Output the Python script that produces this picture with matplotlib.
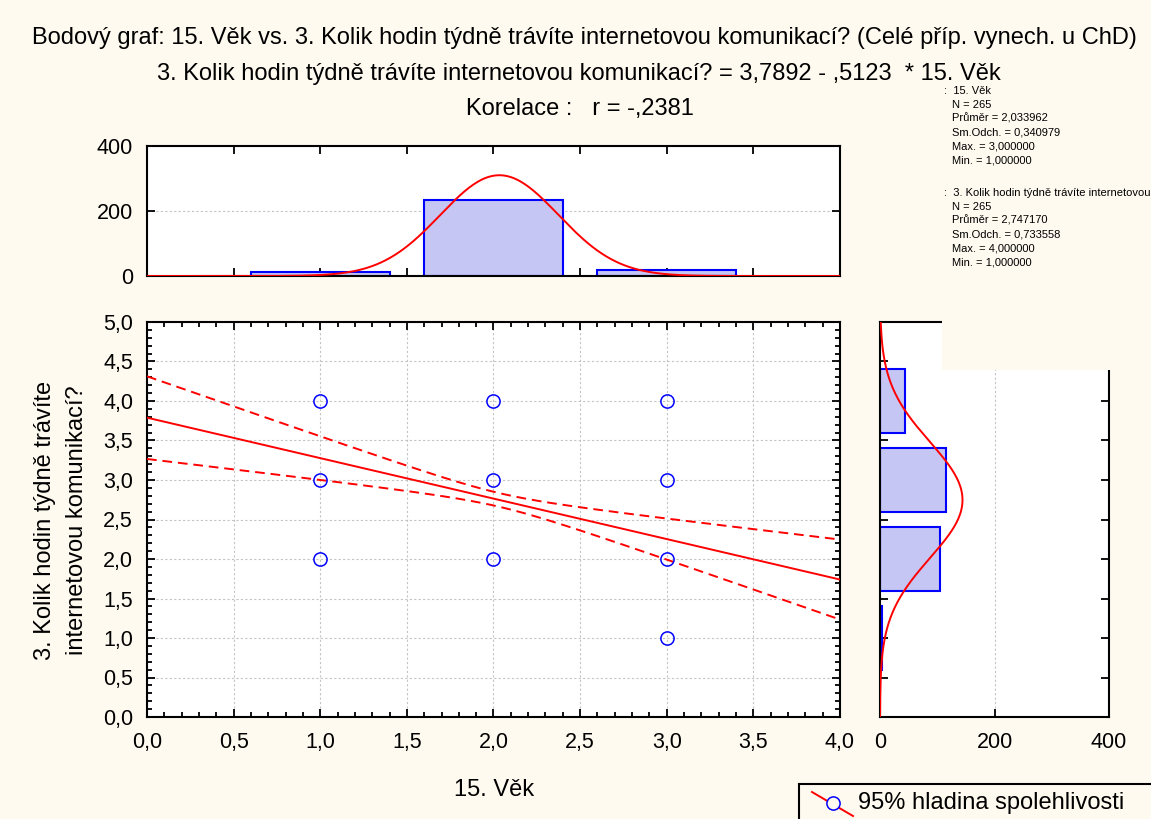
import numpy as np
import matplotlib
matplotlib.use("Agg")
import matplotlib.pyplot as plt
from matplotlib.ticker import MultipleLocator, FuncFormatter
from matplotlib.patches import Rectangle
from matplotlib.lines import Line2D

plt.rcParams['font.family'] = ['Liberation Sans', 'DejaVu Sans']

# --- data ---------------------------------------------------------------
x_name = "15. Věk"
y_name = "3. Kolik hodin týdně trávíte internetovou komunikací?"

# observed (x, y) combinations shown in the scatter
pts_x = [1, 1, 1, 2, 2, 2, 3, 3, 3, 3]
pts_y = [2, 3, 4, 2, 3, 4, 1, 2, 3, 4]

# frequency tables for the marginal histograms
age_cat = [1, 2, 3]
age_cnt = [11, 234, 20]
hrs_cat = [1, 2, 3, 4]
hrs_cnt = [3, 104, 115, 43]

# summary statistics
n_obs = 265
mean_x, sd_x, min_x, max_x = 2.033962, 0.340979, 1.0, 3.0
mean_y, sd_y, min_y, max_y = 2.747170, 0.733558, 1.0, 4.0
b0, b1 = 3.7892, -0.5123
r_xy = -0.2381

BG = '#fffaf0'
RED = '#ff0000'
BLUE = '#0000ff'
BARFILL = '#c6c6f4'
GRID = '#c4c4c4'
FS = 17        # titles, axis labels, legend
FS_TICK = 15.5
FS_STAT = 8.0

W, H = 1151, 819
fig = plt.figure(figsize=(W / 100, H / 100), dpi=100, facecolor=BG)


def px(x0, y0, x1, y1):
    # pixel box -> figure fraction rect
    return [x0 / W, 1 - y1 / H, (x1 - x0) / W, (y1 - y0) / H]


def comma(v, pos=None):
    return f"{v:.1f}".replace('.', ',')


def dec(v, nd, short=False):
    # Czech decimals; short=True drops the leading zero ("-,2381")
    s = f"{v:.{nd}f}".replace('.', ',')
    if short and abs(v) < 1:
        s = s.replace('0,', ',', 1)
    return s


def style_ax(ax):
    for s in ax.spines.values():
        s.set_linewidth(1.5)
        s.set_color('black')
    ax.tick_params(which='both', direction='in', top=True, right=True,
                   width=1.3, labelsize=FS_TICK, pad=10)
    ax.tick_params(which='major', length=6)
    ax.tick_params(which='minor', length=3.5)


# --- scatter with regression line and 95% band -------------------------
ax = fig.add_axes(px(147, 322, 840, 717))
style_ax(ax)
ax.set_xlim(0, 4)
ax.set_ylim(0, 5)
ax.xaxis.set_major_locator(MultipleLocator(0.5))
ax.xaxis.set_minor_locator(MultipleLocator(0.1))
ax.yaxis.set_major_locator(MultipleLocator(0.5))
ax.yaxis.set_minor_locator(MultipleLocator(0.1))
ax.xaxis.set_major_formatter(FuncFormatter(comma))
ax.yaxis.set_major_formatter(FuncFormatter(comma))
ax.tick_params(axis='x', pad=11)
ax.grid(True, which='major', color=GRID, linestyle=(0, (2, 2)), linewidth=0.8)
ax.set_axisbelow(True)

xs = np.linspace(0, 4, 200)
fit = b0 + b1 * xs
sxx = (n_obs - 1) * sd_x ** 2
syy = (n_obs - 1) * sd_y ** 2
s_res = np.sqrt((1 - r_xy ** 2) * syy / (n_obs - 2))
t_crit = 1.9690
half = t_crit * s_res * np.sqrt(1 / n_obs + (xs - mean_x) ** 2 / sxx)
ax.plot(xs, fit, color=RED, lw=1.4, zorder=3)
ax.plot(xs, fit + half, color=RED, lw=1.4, ls=(0, (5, 3)), zorder=3)
ax.plot(xs, fit - half, color=RED, lw=1.4, ls=(0, (5, 3)), zorder=3)
ax.plot(pts_x, pts_y, 'o', ms=9.5, mfc='none', mec=BLUE, mew=1.1, zorder=4)

# --- top marginal histogram (15. Věk) ----------------------------------
axt = fig.add_axes(px(147, 146, 840, 276))
style_ax(axt)
axt.set_xlim(0, 4)
axt.set_ylim(0, 400)
axt.xaxis.set_major_locator(MultipleLocator(0.5))
axt.set_yticks([0, 200, 400])
axt.tick_params(axis='x', labelbottom=False)
axt.grid(True, axis='y', color=GRID, linestyle=(0, (2, 2)), linewidth=0.8)
axt.set_axisbelow(True)
axt.bar(age_cat, age_cnt, width=0.8, color=BARFILL, edgecolor=BLUE, lw=1.5, zorder=2)
xn = np.linspace(0, 4, 300)
axt.plot(xn, n_obs * np.exp(-0.5 * ((xn - mean_x) / sd_x) ** 2) / (sd_x * np.sqrt(2 * np.pi)),
         color=RED, lw=1.4, zorder=3)

# --- right marginal histogram (3. Kolik hodin ...) ---------------------
axr = fig.add_axes(px(880, 322, 1109, 717))
style_ax(axr)
axr.set_xlim(0, 400)
axr.set_ylim(0, 5)
axr.set_xticks([0, 200, 400])
axr.yaxis.set_major_locator(MultipleLocator(0.5))
axr.tick_params(axis='y', labelleft=False)
axr.tick_params(axis='x', pad=11)
axr.grid(True, axis='x', color=GRID, linestyle=(0, (2, 2)), linewidth=0.8)
axr.set_axisbelow(True)
axr.barh(hrs_cat, hrs_cnt, height=0.8, color=BARFILL, edgecolor=BLUE, lw=1.5, zorder=2)
yn = np.linspace(0, 5, 300)
axr.plot(n_obs * np.exp(-0.5 * ((yn - mean_y) / sd_y) ** 2) / (sd_y * np.sqrt(2 * np.pi)), yn,
         color=RED, lw=1.4, zorder=3)

# --- titles and axis labels --------------------------------------------
fig.text(584 / W, 1 - 38 / H,
         f"Bodový graf: {x_name} vs. {y_name} (Celé příp. vynech. u ChD)",
         ha='center', va='center', fontsize=FS)
fig.text(579 / W, 1 - 74 / H,
         f"{y_name} = {dec(b0, 4)} - {dec(abs(b1), 4, True)}  * {x_name}",
         ha='center', va='center', fontsize=FS)
fig.text(580 / W, 1 - 109 / H, f"Korelace :   r = {dec(r_xy, 4, True)}",
         ha='center', va='center', fontsize=FS)
fig.text(494 / W, 1 - 790 / H, x_name, ha='center', va='center', fontsize=FS)
fig.text(61 / W, 1 - 520 / H, "3. Kolik hodin týdně trávíte\ninternetovou komunikací?",
         ha='center', va='center', rotation=90, fontsize=FS, linespacing=1.55,
         multialignment='center')

# --- descriptive statistics box (sits over the right histogram) --------
stat_box = Rectangle((942 / W, 1 - 370 / H), 1 - 942 / W, (370 - 80) / H,
                     transform=fig.transFigure, facecolor=BG, edgecolor='none', zorder=5)
fig.add_artist(stat_box)


def stats_block(y0, name, n, mean, sd, vmax, vmin):
    rows = [("N", str(n)), ("Průměr", dec(mean, 6)), ("Sm.Odch.", dec(sd, 6)),
            ("Max.", dec(vmax, 6)), ("Min.", dec(vmin, 6))]
    fig.text(944 / W, 1 - y0 / H, f":  {name}", ha='left', va='center',
             fontsize=FS_STAT, zorder=6)
    for i, (k, v) in enumerate(rows):
        fig.text(952 / W, 1 - (y0 + 13.9 * (i + 1)) / H, f"{k} = {v}",
                 ha='left', va='center', fontsize=FS_STAT, zorder=6)


stats_block(91, x_name, n_obs, mean_x, sd_x, max_x, min_x)
stats_block(193, y_name, n_obs, mean_y, sd_y, max_y, min_y)

# --- legend ------------------------------------------------------------
fig.add_artist(Rectangle((799 / W, 1 - 830 / H), 400 / W, (830 - 784) / H,
                         transform=fig.transFigure, facecolor=BG, edgecolor='black',
                         lw=1.5, zorder=5))
fig.add_artist(Line2D([812 / W, 853 / W], [1 - 792 / H, 1 - 816 / H],
                      transform=fig.transFigure, color=RED, lw=1.4, zorder=6))
fig.add_artist(Line2D([833 / W], [1 - 803 / H], transform=fig.transFigure,
                      marker='o', ms=9.5, mfc=BG, mec=BLUE, mew=1.1, zorder=7))
fig.text(858 / W, 1 - 803 / H, "95% hladina spolehlivosti", ha='left', va='center',
         fontsize=FS, zorder=7)

fig.savefig("out.png", dpi=100, facecolor=BG)
